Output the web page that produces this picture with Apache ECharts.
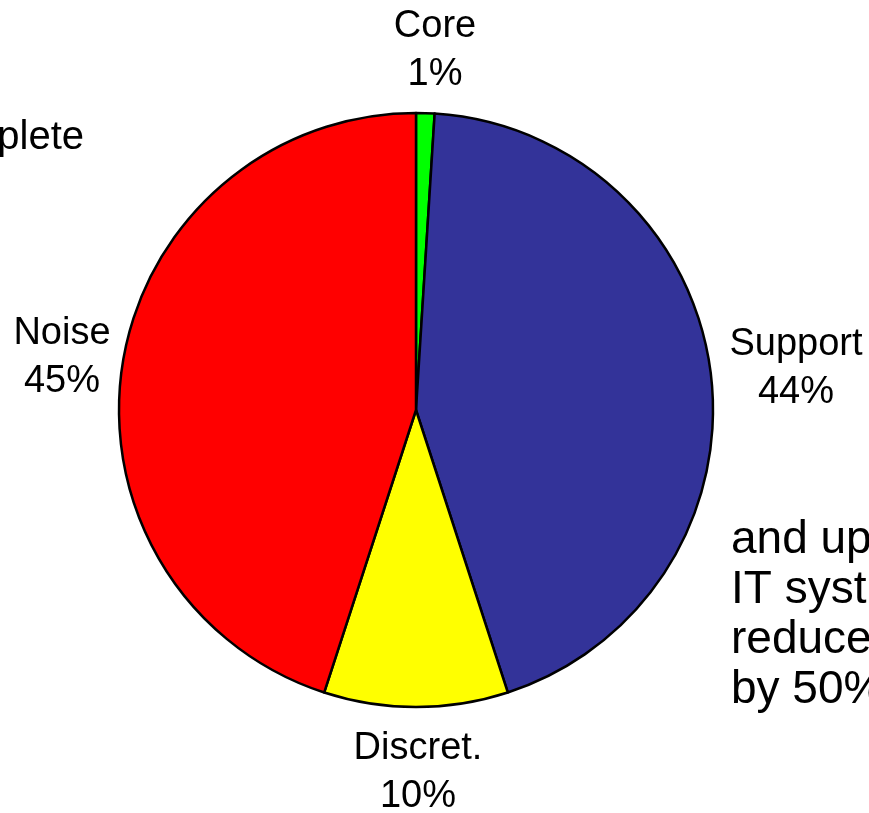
<!DOCTYPE html>
<html>
<head>
<meta charset="utf-8">
<script src="https://cdn.jsdelivr.net/npm/echarts@6/dist/echarts.min.js"></script>
<style>
  html, body { margin: 0; padding: 0; background: #fff; }
  #chart { width: 869px; height: 813px; }
</style>
</head>
<body>
<div id="chart"></div>
<script>
// slice data, clockwise from 12 o'clock
const categories = ['Core', 'Support', 'Discret.', 'Noise']
const shares = [1, 44, 10, 45]
const sliceColors = ['#00ff00', '#333399', '#ffff00', '#ff0000']

// label centres (px) for each slice
const labelPos = [[435, 51], [796, 369], [418, 773], [62, 358]]

const chart = echarts.init(document.getElementById('chart'), null, { renderer: 'canvas' })

const option = {
  backgroundColor: '#ffffff',
  animation: false,
  graphic: [
    {
      type: 'text',
      x: 84, y: 138,
      style: {
        text: 'plete',
        font: '40px "Liberation Sans", Arial, sans-serif',
        fill: '#000',
        textAlign: 'right',
        textVerticalAlign: 'middle'
      }
    },
    {
      type: 'text',
      x: 731, y: 515,
      style: {
        text: 'and up\nIT syst\nreduce\nby 50%',
        font: '46px "Liberation Sans", Arial, sans-serif',
        lineHeight: 50,
        fill: '#000',
        textAlign: 'left',
        textVerticalAlign: 'top'
      }
    }
  ],
  series: [{
    type: 'pie',
    center: [416, 410],
    radius: [0, 297],
    startAngle: 90,
    clockwise: true,
    data: categories.map((name, i) => ({
      name,
      value: shares[i],
      itemStyle: { color: sliceColors[i] }
    })),
    itemStyle: { borderColor: '#000', borderWidth: 2.5 },
    label: {
      show: true,
      position: 'outside',
      formatter: '{b}\n{c}%',
      fontFamily: '"Liberation Sans", Arial, sans-serif',
      fontSize: 38,
      lineHeight: 48,
      color: '#000',
      align: 'center',
      overflow: 'none',
      edgeDistance: 0
    },
    labelLine: { show: false },
    labelLayout: (params) => ({
      x: labelPos[params.dataIndex][0],
      y: labelPos[params.dataIndex][1],
      align: 'center',
      verticalAlign: 'middle'
    }),
    emphasis: { disabled: true }
  }]
}

chart.setOption(option)
</script>
</body>
</html>
